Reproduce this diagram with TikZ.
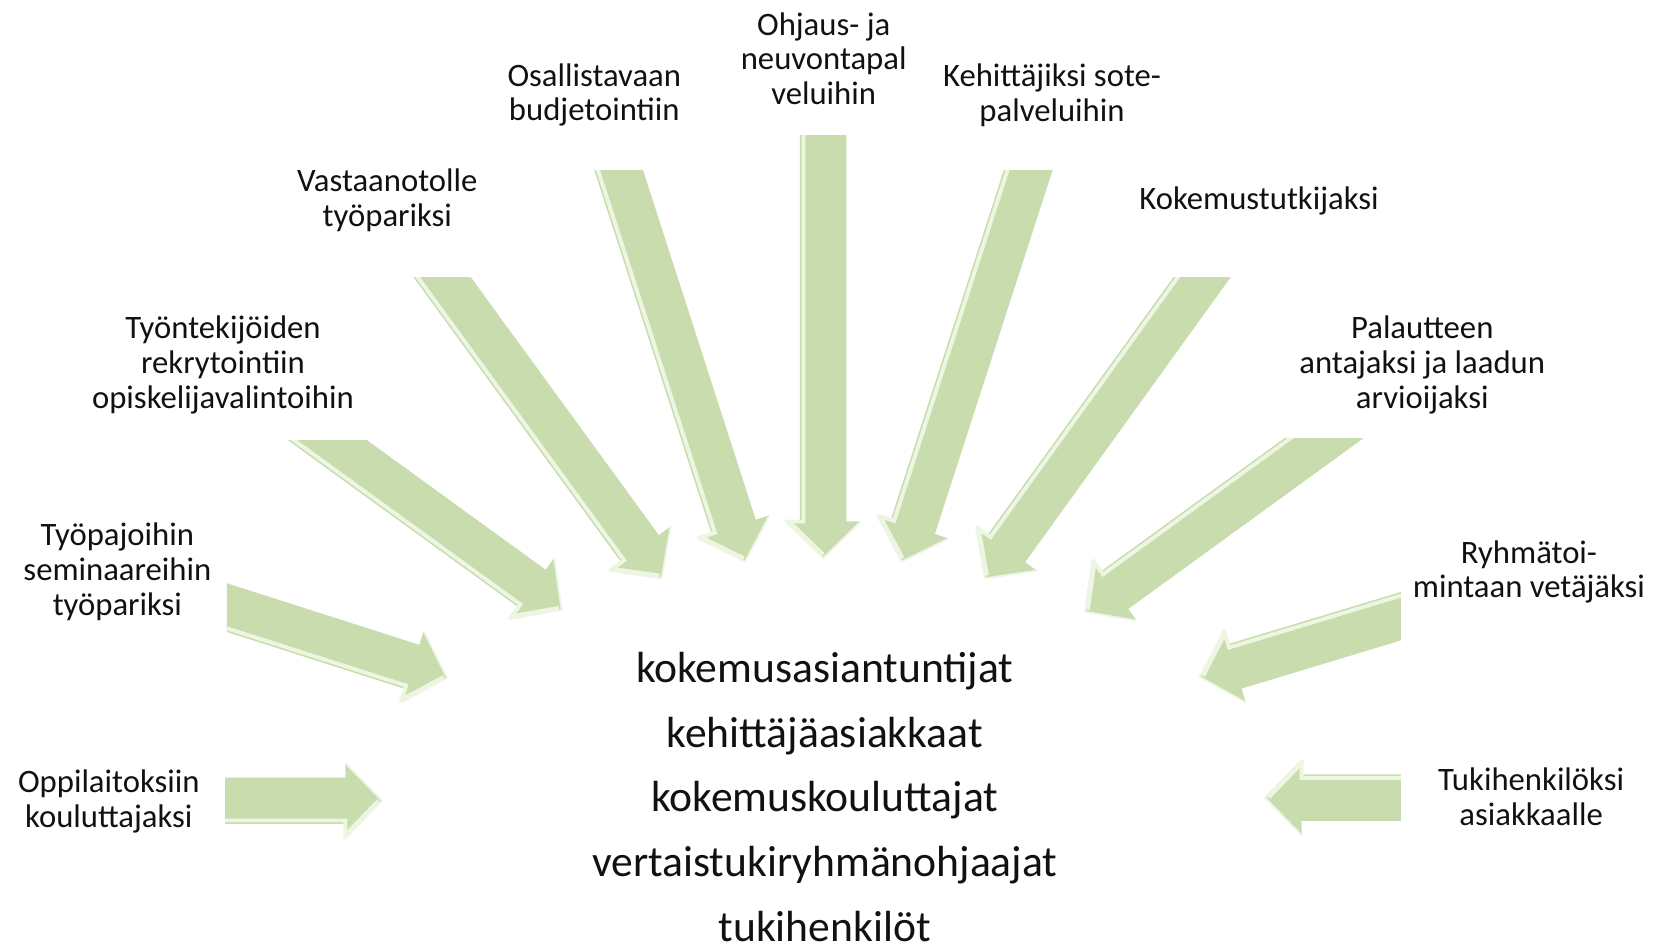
\documentclass[tikz,border=0pt]{standalone}
\usepackage{fontspec}
\setmainfont{Carlito}
\usetikzlibrary{calc}
\definecolor{ink}{HTML}{111111}
\definecolor{arrowgreen}{HTML}{C8DCAE}
\definecolor{arrowlight}{HTML}{EDF6E1}
\newlength{\shafthw}\setlength{\shafthw}{6.6pt}
\newlength{\headhw}\setlength{\headhw}{10.7pt}
\newlength{\headlen}\setlength{\headlen}{10.4pt}
% block arrow from a tail centre to a tip, cut by a clip box
\newcommand{\blockarrow}[3]{%
  \begin{scope}
    \clip #3;
    \coordinate (hb) at ($(#2)!\headlen!(#1)$);
    \coordinate (tb) at ($(#1)!-40pt!(#2)$);
    \fill[arrowgreen] ($(tb)!\shafthw!90:(#2)$) -- ($(hb)!\shafthw!90:(#2)$)
      -- ($(hb)!\headhw!90:(#2)$) -- (#2) -- ($(hb)!\headhw!-90:(#2)$)
      -- ($(hb)!\shafthw!-90:(#2)$) -- ($(tb)!\shafthw!-90:(#2)$) -- cycle;
    \draw[arrowlight, line width=1.1pt, line join=miter]
      ($(tb)!\shafthw-1pt!-90:(#2)$) -- ($(hb)!\shafthw-1pt!-90:(#2)$)
      -- ($(hb)!\headhw-1pt!-90:(#2)$) -- ($(#2)!1pt!(hb)$);
    \draw[white!70!arrowgreen, line width=0.5pt]
      ($(hb)!\headhw!90:(#2)$) -- (#2) -- ($(hb)!\headhw!-90:(#2)$);
  \end{scope}}

\begin{document}
\begin{tikzpicture}[x=0.01067cm, y=-0.01067cm,
  lbl/.style={font=\fontsize{9.3}{9.9}\selectfont, text=ink, align=center, inner sep=0pt},
  core/.style={font=\fontsize{12.4}{18.4}\selectfont, text=ink, align=center, inner sep=0pt}]
\useasboundingbox (0,0) rectangle (1568,889);

% -------------------------------------------------------------- arrows
\coordinate (tail1) at (211,750.5);   \coordinate (tip1) at (358,750.5);
\coordinate (tail2) at (212.7,569.5); \coordinate (tip2) at (419,635.5);
\coordinate (tail3) at (307.5,413);   \coordinate (tip3) at (526.4,571.7);
\coordinate (tail4) at (414.5,260);   \coordinate (tip4) at (620.1,542);
\coordinate (tail5) at (580,160);     \coordinate (tip5) at (698.2,526.4);
\coordinate (tail6) at (771.5,127);   \coordinate (tip6) at (771.5,523);
\coordinate (tail7) at (963.5,160);   \coordinate (tip7) at (845,526.4);
\coordinate (tail8) at (1126.5,260);  \coordinate (tip8) at (923.1,542);
\coordinate (tail9) at (1240.5,411);  \coordinate (tip9) at (1016.9,573.3);
\coordinate (tail10) at (1313,577.5); \coordinate (tip10) at (1124.5,634.5);
\coordinate (tail11) at (1313,747.5); \coordinate (tip11) at (1185.6,747.5);

\blockarrow{tail1}{tip1}{(211,0) rectangle (1568,889)}
\blockarrow{tail2}{tip2}{(212.7,0) rectangle (1568,889)}
\blockarrow{tail3}{tip3}{(0,413) rectangle (1568,889)}
\blockarrow{tail4}{tip4}{(0,260) rectangle (1568,889)}
\blockarrow{tail5}{tip5}{(0,160) rectangle (1568,889)}
\blockarrow{tail6}{tip6}{(0,127) rectangle (1568,889)}
\blockarrow{tail7}{tip7}{(0,160) rectangle (1568,889)}
\blockarrow{tail8}{tip8}{(0,260) rectangle (1568,889)}
\blockarrow{tail9}{tip9}{(0,411) rectangle (1568,889)}
\blockarrow{tail10}{tip10}{(0,0) rectangle (1313,889)}
\blockarrow{tail11}{tip11}{(0,0) rectangle (1313,889)}

% -------------------------------------------------------------- labels
\node[lbl] (lab1) at (102,751) {Oppilaitoksiin\\kouluttajaksi};
\node[lbl] (lab2) at (110,536) {Työpajoihin\\seminaareihin\\työpariksi};
\node[lbl] (lab3) at (209,342) {Työntekijöiden\\rekrytointiin\\opiskelijavalintoihin};
\node[lbl] (lab4) at (363,188) {Vastaanotolle\\työpariksi};
\node[lbl] (lab5) at (557,89) {Osallistavaan\\budjetointiin};
\node[lbl] (lab6) at (772,55) {Ohjaus- ja\\neuvontapal\\veluihin};
\node[lbl] (lab7) at (986,89) {Kehittäjiksi sote-\\palveluihin};
\node[lbl] (lab8) at (1180,188) {Kokemustutkijaksi};
\node[lbl] (lab9) at (1333,342) {Palautteen\\antajaksi ja laadun\\arvioijaksi};
\node[lbl] (lab10) at (1433,536) {Ryhmätoi-\\mintaan vetäjäksi};
\node[lbl] (lab11) at (1435,747) {Tukihenkilöksi\\asiakkaalle};

% -------------------------------------------------------------- centre
\node[core] (roles) at (773,747)
  {kokemusasiantuntijat\\kehittäjäasiakkaat\\kokemuskouluttajat\\vertaistukiryhmänohjaajat\\tukihenkilöt};

\end{tikzpicture}
\end{document}
